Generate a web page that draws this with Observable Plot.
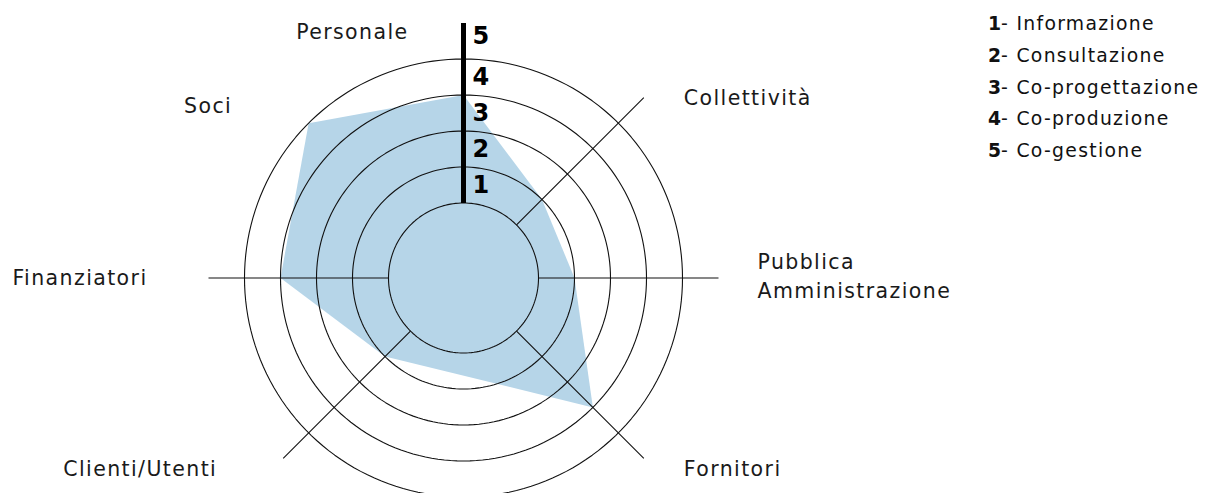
<!DOCTYPE html>
<html>
<head>
<meta charset="utf-8">
<script src="https://cdn.jsdelivr.net/npm/d3@7"></script>
<script src="https://cdn.jsdelivr.net/npm/@observablehq/plot@0.6"></script>
<style>
  html, body { margin: 0; padding: 0; background: #fff; }
  #wrap { position: relative; width: 1206px; height: 493px; overflow: hidden; }
  #wrap svg text { letter-spacing: 1.4px; }
  #legend { position: absolute; left: 988px; top: 8px; font-family: "DejaVu Sans", sans-serif;
            font-size: 18.8px; line-height: 31.8px; color: #111; letter-spacing: 1.3px; white-space: nowrap; }
  #legend b { font-weight: bold; letter-spacing: 0; }
</style>
</head>
<body>
<div id="wrap"><div id="legend"></div></div>
<script>
// ---- data ----
const categories = ["Personale", "Collettività", "Pubblica\nAmministrazione", "Fornitori", "Clienti/Utenti", "Finanziatori", "Soci"];
const values = [3, 1, 1, 3, 1, 3, 4];
const levels = [1, 2, 3, 4, 5];
const levelNames = ["Informazione", "Consultazione", "Co-progettazione", "Co-produzione", "Co-gestione"];

// ---- layout ----
const W = 1206, H = 493;
const cx = 463, cy = 277.5;      // centre in px
const unit = 36;                 // px per level
const hole = 75 / unit;          // inner circle radius in level units
const angles = [90, 45, 0, -45, -135, 180, 135];   // axis directions (deg)
const labelStyle = [
  {anchor: "end",   dx: -55, dy: 7},
  {anchor: "start", dx: 40,  dy: -2},
  {anchor: "start", dx: 39,  dy: -4},
  {anchor: "start", dx: 40,  dy: 8},
  {anchor: "end",   dx: -66, dy: 8},
  {anchor: "end",   dx: -61, dy: -2},
  {anchor: "end",   dx: -51, dy: 6}
];
const rad = d => d * Math.PI / 180;
const R = v => v + hole;
const pt = (v, a) => [R(v) * Math.cos(rad(a)), R(v) * Math.sin(rad(a))];

const poly = values.map((v, i) => { const [x, y] = pt(v, angles[i]); return {x, y}; });

const circle = (k) => d3.range(0, 361, 2).map(t => ({ring: k, x: R(k) * Math.cos(rad(t)), y: R(k) * Math.sin(rad(t))}));
const rings = [0, 1, 2, 3, 4].flatMap(circle);
const hub = circle(0);

const axes = angles.map((a, i) => {
  const [x1, y1] = pt(0, a), [x2, y2] = pt(5, a);
  return {i, a, x1, y1, x2, y2};
});
const thinAxes = axes.filter(d => d.a !== 90 && d.a !== 135);
const bar = axes.filter(d => d.a === 90);

const labels = categories.map((c, i) => {
  const [x, y] = pt(5, angles[i]);
  return {c, x, y, ...labelStyle[i]};
});

const numLabels = levels.map(l => ({l, x: 9 / unit, y: R(l - 0.5) + (l === 5 ? 0.12 : 0)}));

const blue = "#b6d5e8";
const font = "DejaVu Sans, sans-serif";

const chart = Plot.plot({
  width: W, height: H,
  margin: 0,
  x: {domain: [-cx / unit, (W - cx) / unit], axis: null},
  y: {domain: [-(H - cy) / unit, cy / unit], axis: null},
  style: {fontFamily: font, background: "white"},
  marks: [
    Plot.line(poly, {x: "x", y: "y", curve: "linear-closed", fill: blue, stroke: "none"}),
    Plot.line(hub, {x: "x", y: "y", fill: blue, stroke: "none"}),
    Plot.line(rings, {x: "x", y: "y", z: "ring", stroke: "#111", strokeWidth: 1.1}),
    Plot.link(thinAxes, {x1: "x1", y1: "y1", x2: "x2", y2: "y2", stroke: "#111", strokeWidth: 1.1}),
    Plot.link(bar, {x1: "x1", y1: "y1", x2: "x2", y2: "y2", stroke: "#000", strokeWidth: 5}),
    ...labels.map(d => Plot.text([d], {
      x: "x", y: "y", text: "c", textAnchor: d.anchor, dx: d.dx, dy: d.dy,
      fontSize: 20.5, fill: "#1a1a1a", lineHeight: 1.42
    })),
    Plot.text(numLabels, {x: "x", y: "y", text: "l", textAnchor: "start", fontSize: 24, fontWeight: 600, fill: "#000"})
  ]
});

document.getElementById("wrap").prepend(chart);
document.getElementById("legend").innerHTML =
  levels.map((l, i) => `<div><b>${l}</b>- ${levelNames[i]}</div>`).join("");
</script>
</body>
</html>
